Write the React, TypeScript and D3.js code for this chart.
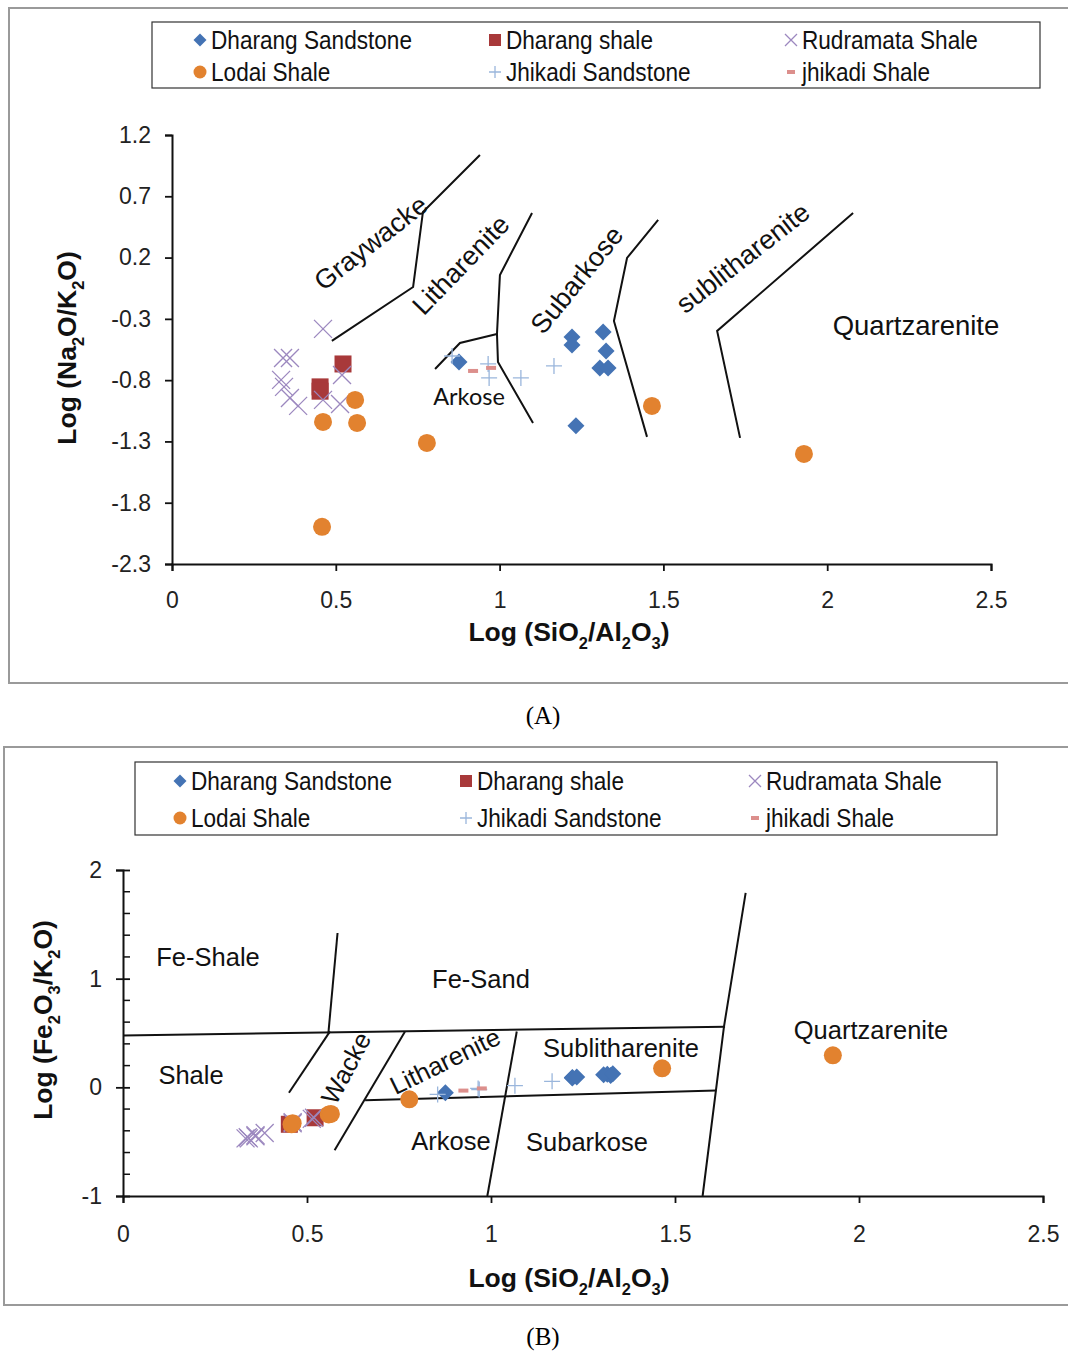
import * as d3 from 'd3';
import { useEffect, useRef } from 'react';

type Pt = [number, number];

// Series names (legend order)
const seriesNames = [
  'Dharang Sandstone',
  'Dharang shale',
  'Rudramata Shale',
  'Lodai Shale',
  'Jhikadi Sandstone',
  'jhikadi Shale',
];

// ---- Panel A: Log(Na2O/K2O) vs Log(SiO2/Al2O3)
const aDharangSandstone: Pt[] = [
  [0.876, -0.652], [1.221, -0.448], [1.221, -0.513], [1.316, -0.407],
  [1.325, -0.562], [1.306, -0.7], [1.331, -0.7], [1.233, -1.173],
];
const aDharangShale: Pt[] = [[0.522, -0.668], [0.452, -0.855], [0.452, -0.89]];
const aRudramataShale: Pt[] = [
  [0.461, -0.382], [0.339, -0.619], [0.36, -0.619], [0.333, -0.798], [0.342, -0.855],
  [0.36, -0.945], [0.385, -1.01], [0.461, -0.961], [0.519, -0.758], [0.513, -0.994],
];
const aLodaiShale: Pt[] = [
  [0.559, -0.961], [0.461, -1.141], [0.565, -1.149], [0.778, -1.312],
  [0.458, -1.997], [1.465, -1.01], [1.929, -1.402],
];
const aJhikadiSandstone: Pt[] = [
  [0.855, -0.603], [0.965, -0.668], [0.968, -0.782], [1.065, -0.782], [1.166, -0.684],
];
const aJhikadiShale: Pt[] = [[0.919, -0.725], [0.974, -0.7]];

const aBoundaries: Pt[][] = [
  [[0.488, -0.48], [0.736, -0.04], [0.766, 0.572], [0.94, 1.037]],
  [[1.099, 0.564], [1.001, 0.058], [0.992, -0.423], [0.995, -0.652], [1.102, -1.149]],
  [[0.992, -0.423], [0.879, -0.497], [0.803, -0.709]],
  [[1.484, 0.507], [1.389, 0.197], [1.349, -0.317], [1.45, -1.263]],
  [[2.079, 0.564], [1.664, -0.399], [1.734, -1.271]],
];

const aYTicks = [1.2, 0.7, 0.2, -0.3, -0.8, -1.3, -1.8, -2.3];
const xTicks = [0, 0.5, 1, 1.5, 2, 2.5];

// ---- Panel B: Log(Fe2O3/K2O) vs Log(SiO2/Al2O3)
const bDharangSandstone: Pt[] = [
  [0.876, -0.05], [1.221, 0.09], [1.221, 0.085], [1.316, 0.12],
  [1.325, 0.11], [1.306, 0.115], [1.331, 0.125], [1.233, 0.095],
];
const bDharangShale: Pt[] = [[0.522, -0.28], [0.452, -0.34]];
const bRudramataShale: Pt[] = [
  [0.333, -0.47], [0.339, -0.46], [0.342, -0.47], [0.36, -0.44], [0.36, -0.45],
  [0.385, -0.42], [0.461, -0.32], [0.461, -0.33], [0.519, -0.28], [0.513, -0.29],
];
const bLodaiShale: Pt[] = [
  [0.559, -0.25], [0.461, -0.33], [0.565, -0.245], [0.778, -0.11],
  [0.458, -0.34], [1.465, 0.175], [1.929, 0.295],
];
const bJhikadiSandstone: Pt[] = [
  [0.855, -0.065], [0.965, -0.01], [0.968, -0.02], [1.065, 0.015], [1.166, 0.055],
];
const bJhikadiShale: Pt[] = [[0.925, -0.03], [0.975, -0.01]];

const bBoundaries: Pt[][] = [
  [[0, 0.478], [1.636, 0.558]],
  [[0.583, 1.42], [0.558, 0.495]],
  [[0.5625, 0.515], [0.451, -0.05]],
  [[0.766, 0.512], [0.575, -0.58]],
  [[0.658, -0.118], [1.612, -0.03]],
  [[1.07, 0.514], [0.99, -1.0]],
  [[1.692, 1.79], [1.633, 0.557], [1.575, -1.0]],
];

const bYTicks = [2, 1, 0, -1];
const bYMinor = [1.8, 1.6, 1.4, 1.2, 0.8, 0.6, 0.4, 0.2, -0.2, -0.4, -0.6, -0.8];

const shapes = ['diamond', 'square', 'x', 'circle', 'plus', 'dash'];
const colors = ['#4473b4', '#a8393a', '#9c88bf', '#e2822f', '#9ab6dc', '#dc8f8c'];

const FONT = 'Liberation Sans, Arial, sans-serif';

type Sel = d3.Selection<SVGGElement, unknown, null, undefined>;

function marker(g: Sel, shape: string, cx: number, cy: number, s: number, color: string) {
  if (shape === 'diamond') {
    g.append('path')
      .attr('d', `M${cx},${cy - s}L${cx + s},${cy}L${cx},${cy + s}L${cx - s},${cy}Z`)
      .attr('fill', color);
  } else if (shape === 'square') {
    g.append('rect')
      .attr('x', cx - s).attr('y', cy - s).attr('width', 2 * s).attr('height', 2 * s)
      .attr('fill', color);
  } else if (shape === 'circle') {
    g.append('circle').attr('cx', cx).attr('cy', cy).attr('r', s).attr('fill', color);
  } else if (shape === 'x') {
    g.append('path')
      .attr('d', `M${cx - s},${cy - s}L${cx + s},${cy + s}M${cx - s},${cy + s}L${cx + s},${cy - s}`)
      .attr('stroke', color).attr('stroke-width', 1.3).attr('fill', 'none');
  } else if (shape === 'plus') {
    g.append('path')
      .attr('d', `M${cx - s},${cy}L${cx + s},${cy}M${cx},${cy - s}L${cx},${cy + s}`)
      .attr('stroke', color).attr('stroke-width', 1.3).attr('fill', 'none');
  } else {
    g.append('rect')
      .attr('x', cx - s).attr('y', cy - 2).attr('width', 2 * s).attr('height', 4)
      .attr('fill', color);
  }
}

// text with subscripts: parts like [['Log (Na',0],['2',1],...]
function subText(g: Sel, parts: [string, number][], x: number, y: number, size: number, rotate = 0) {
  const t = g.append('text')
    .attr('transform', `translate(${x},${y}) rotate(${rotate})`)
    .attr('text-anchor', 'middle')
    .attr('font-family', FONT)
    .attr('font-weight', 'bold')
    .attr('font-size', size)
    .attr('fill', '#111');
  let prevSub = 0;
  parts.forEach(([s, sub]) => {
    const dy = sub === prevSub ? 0 : sub ? size * 0.3 : -size * 0.3;
    t.append('tspan')
      .attr('dy', dy)
      .attr('font-size', sub ? size * 0.62 : size)
      .text(s);
    prevSub = sub;
  });
}

interface PanelCfg {
  frame: [number, number, number, number];
  legend: { x: number; y: number; w: number; h: number; cols: number[]; rows: number[] };
  xRange: [number, number];
  yDomain: [number, number];
  yRange: [number, number];
  yTicks: number[];
  yMinor: number[];
  yFmt: (v: number) => string;
  data: Pt[][];
  boundaries: Pt[][];
  markerSize: number[];
  labels: { t: string; x: number; y: number; r: number; size: number; font?: string }[];
  yTitle: [string, number][];
  yTitlePos: [number, number];
  xTitlePos: [number, number];
  xLabelDy: number;
}

function drawPanel(svg: d3.Selection<SVGSVGElement, unknown, null, undefined>, c: PanelCfg) {
  const g = svg.append('g') as unknown as Sel;
  const [fx, fy, fw, fh] = c.frame;
  g.append('rect').attr('x', fx).attr('y', fy).attr('width', fw).attr('height', fh)
    .attr('fill', '#fff').attr('stroke', '#9a9a9a').attr('stroke-width', 2);

  // legend
  const L = c.legend;
  g.append('rect').attr('x', L.x).attr('y', L.y).attr('width', L.w).attr('height', L.h)
    .attr('fill', '#fff').attr('stroke', '#333').attr('stroke-width', 1.2);
  const legSize = [6.5, 6, 6, 6.5, 6, 4];
  seriesNames.forEach((name, i) => {
    const cx = L.cols[i % 3];
    const cy = L.rows[Math.floor(i / 3)];
    marker(g, shapes[i], cx, cy, legSize[i], colors[i]);
    g.append('text').attr('x', cx + 11).attr('y', cy + 8)
      .attr('font-family', FONT).attr('font-size', 22.6).attr('fill', '#111')
      .attr('transform', `translate(0,${cy}) scale(1,1.1) translate(0,${-cy})`)
      .text(name);
  });

  const x = d3.scaleLinear().domain([0, 2.5]).range(c.xRange);
  const y = d3.scaleLinear().domain(c.yDomain).range(c.yRange);

  // boundaries
  const line = d3.line<Pt>().x((d) => x(d[0])).y((d) => y(d[1]));
  c.boundaries.forEach((b) => {
    g.append('path').attr('d', line(b)).attr('fill', 'none')
      .attr('stroke', '#111').attr('stroke-width', 2);
  });

  // axes
  const yAxis = g.append('g').attr('transform', `translate(${c.xRange[0]},0)`)
    .call(d3.axisLeft(y).tickValues(c.yTicks).tickFormat((d) => c.yFmt(d as number))
      .tickSize(7).tickPadding(14));
  yAxis.select('.domain').attr('stroke', '#111').attr('stroke-width', 2);
  yAxis.selectAll('.tick line').attr('stroke', '#111').attr('stroke-width', 1.8);
  yAxis.selectAll('.tick text').attr('font-family', FONT).attr('font-size', 23).attr('fill', '#222');
  if (c.yMinor.length) {
    g.append('g').selectAll('line').data(c.yMinor).join('line')
      .attr('x1', c.xRange[0]).attr('x2', c.xRange[0] + 7)
      .attr('y1', (d) => y(d)).attr('y2', (d) => y(d))
      .attr('stroke', '#111').attr('stroke-width', 1.5);
    yAxis.selectAll('.tick line').attr('x2', 7).attr('x1', -7);
  }

  const xAxis = g.append('g').attr('transform', `translate(0,${c.yRange[0]})`)
    .call(d3.axisBottom(x).tickValues(xTicks).tickFormat((d) => String(d))
      .tickSize(7).tickPadding(c.xLabelDy));
  xAxis.select('.domain').attr('stroke', '#111').attr('stroke-width', 2);
  xAxis.selectAll('.tick line').attr('stroke', '#111').attr('stroke-width', 1.8);
  xAxis.selectAll('.tick text').attr('font-family', FONT).attr('font-size', 23).attr('fill', '#222');

  // region labels
  c.labels.forEach((l) => {
    g.append('text')
      .attr('transform', `translate(${l.x},${l.y}) rotate(${l.r})`)
      .attr('text-anchor', 'middle').attr('dominant-baseline', 'central')
      .attr('font-family', l.font ?? FONT).attr('font-size', l.size).attr('fill', '#111')
      .text(l.t);
  });

  // data points
  c.data.forEach((pts, i) => {
    pts.forEach((p) => marker(g, shapes[i], x(p[0]), y(p[1]), c.markerSize[i], colors[i]));
  });

  subText(g, c.yTitle, c.yTitlePos[0], c.yTitlePos[1], 26.5, -90);
  subText(g, [['Log (SiO', 0], ['2', 1], ['/Al', 0], ['2', 1], ['O', 0], ['3', 1], [')', 0]],
    c.xTitlePos[0], c.xTitlePos[1], 26.5);
}

export default function App() {
  const svgRef = useRef<SVGSVGElement>(null);

  useEffect(() => {
    if (!svgRef.current) return;
    const svg = d3.select(svgRef.current);
    svg.selectAll('*').remove();

    drawPanel(svg, {
      frame: [9, 8, 1060, 675],
      legend: { x: 152, y: 22, w: 888, h: 66, cols: [200, 495, 791], rows: [40, 72] },
      xRange: [172, 991],
      yDomain: [-2.3, 1.2],
      yRange: [564, 135],
      yTicks: aYTicks,
      yMinor: [],
      yFmt: (v) => v.toFixed(1),
      data: [aDharangSandstone, aDharangShale, aRudramataShale, aLodaiShale, aJhikadiSandstone, aJhikadiShale],
      boundaries: aBoundaries,
      markerSize: [8.5, 8.5, 9, 9, 8, 5],
      labels: [
        { t: 'Graywacke', x: 371, y: 243, r: -38, size: 27 },
        { t: 'Litharenite', x: 461, y: 265, r: -46, size: 27 },
        { t: 'Subarkose', x: 577, y: 280, r: -51, size: 27 },
        { t: 'sublitharenite', x: 743, y: 258, r: -38, size: 27 },
        { t: 'Quartzarenite', x: 916, y: 325, r: 0, size: 27.5 },
        { t: 'Arkose', x: 469, y: 396, r: 0, size: 23.5, font: 'Lato, sans-serif' },
      ],
      yTitle: [['Log (Na', 0], ['2', 1], ['O/K', 0], ['2', 1], ['O)', 0]],
      yTitlePos: [76, 348],
      xTitlePos: [569, 641],
      xLabelDy: 21,
    });

    drawPanel(svg, {
      frame: [4, 747, 1065, 558],
      legend: { x: 135, y: 762, w: 862, h: 73, cols: [180, 466, 755], rows: [781, 818] },
      xRange: [123, 1043],
      yDomain: [-1, 2],
      yRange: [1196, 870],
      yTicks: bYTicks,
      yMinor: bYMinor,
      yFmt: (v) => String(v),
      data: [bDharangSandstone, bDharangShale, bRudramataShale, bLodaiShale, bJhikadiSandstone, bJhikadiShale],
      boundaries: bBoundaries,
      markerSize: [8.5, 8.5, 9, 9, 8, 5],
      labels: [
        { t: 'Fe-Shale', x: 208, y: 957, r: 0, size: 25.5 },
        { t: 'Fe-Sand', x: 481, y: 979, r: 0, size: 25.5 },
        { t: 'Shale', x: 191, y: 1075, r: 0, size: 25.5 },
        { t: 'Wacke', x: 346, y: 1068, r: -62, size: 25.5 },
        { t: 'Litharenite', x: 445, y: 1061, r: -26, size: 25.5 },
        { t: 'Sublitharenite', x: 621, y: 1048, r: 0, size: 25.5 },
        { t: 'Quartzarenite', x: 871, y: 1030, r: 0, size: 25.5 },
        { t: 'Arkose', x: 451, y: 1141, r: 0, size: 25.5 },
        { t: 'Subarkose', x: 587, y: 1142, r: 0, size: 25.5 },
      ],
      yTitle: [['Log (Fe', 0], ['2', 1], ['O', 0], ['3', 1], ['/K', 0], ['2', 1], ['O)', 0]],
      yTitlePos: [52, 1020],
      xTitlePos: [569, 1287],
      xLabelDy: 23,
    });

    svg.append('text').attr('x', 543).attr('y', 724).attr('text-anchor', 'middle')
      .attr('font-family', 'Liberation Serif, serif').attr('font-size', 25).text('(A)');
    svg.append('text').attr('x', 543).attr('y', 1345).attr('text-anchor', 'middle')
      .attr('font-family', 'Liberation Serif, serif').attr('font-size', 25).text('(B)');
  }, []);

  return (
    <svg
      ref={svgRef}
      width={1068}
      height={1351}
      style={{ position: 'absolute', left: 0, top: 0, background: '#fff' }}
    />
  );
}
